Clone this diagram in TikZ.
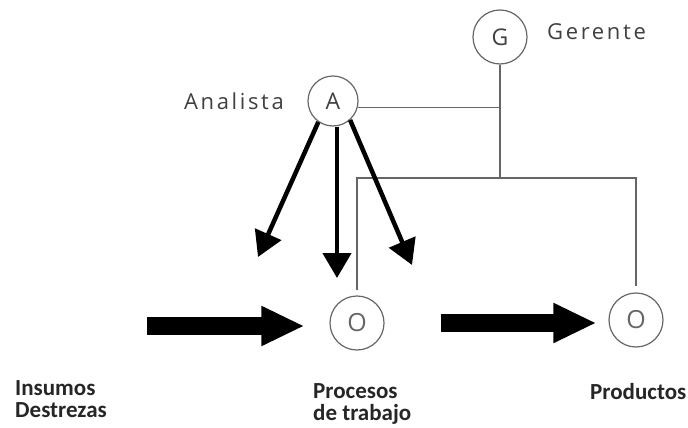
\documentclass[tikz,border=0pt]{standalone}
\usepackage{fontspec}
\setmainfont{Open Sans}
\newfontfamily\calib{Carlito}
\usetikzlibrary{arrows.meta}
\usetikzlibrary{calc}

\begin{document}
\begin{tikzpicture}[x=1pt,y=-1pt,
    puesto/.style={circle,draw=black!60,line width=1.2pt,minimum size=54pt,inner sep=0pt,text=black!75,font=\fontsize{23}{23}\selectfont},
    cargo/.style={inner sep=0pt,text=black!75,font=\fontsize{22}{22}\selectfont\addfontfeature{LetterSpace=12}},
    enlace/.style={draw=black!60,line width=1.3pt},
    flecha/.style={line width=4.5pt,-{Triangle[length=25pt,width=28pt]}},
    flujo/.style={line width=18pt,-{Triangle[length=43pt,width=37pt]}},
    rotulo/.style={font=\calib\fontsize{23}{22}\selectfont\bfseries,text=black!85,align=left,inner sep=0pt}]
    \useasboundingbox (0,0) rectangle (688,428);
    % puestos
    \node[puesto] (G) at (500,37) {G};
    \node[puesto,minimum size=50pt] (A) at (333,101) {A};
    \node[puesto,text=black!60,font=\fontsize{25}{25}\selectfont] (O1) at (357,323) {O};
    \node[puesto,text=black!60,font=\fontsize{25}{25}\selectfont] (O2) at (636,320) {O};
    \node[cargo,anchor=west] (gerente) at (547,32) {Gerente};
    \node[cargo,anchor=east] (analista) at (284,101) {Analista};
    \node[rotulo,anchor=north west] (insumos) at (15,380) {Insumos\\Destrezas};
    \node[rotulo,anchor=north west] (procesos) at (313,383) {Procesos\\de trabajo};
    \node[rotulo,anchor=north west] (productos) at (590,383) {Productos};
    % lineas de mando
    \coordinate (cruce) at (500,178);
    \draw[enlace] (A.-14) -- (A.-14 -| G);
    \draw[enlace] (G.south) -- (cruce);
    \draw[enlace,shorten <=5pt,shorten >=6pt] (O1.north) -- (O1 |- cruce) -- (O2 |- cruce) -- (O2.north);
    % flechas del analista
    \coordinate (izq) at (258,257);
    \coordinate (centro) at (337,278);
    \coordinate (der) at (412,265);
    \draw[flecha] (A.235) -- (izq);
    \draw[flecha] (A.south -| centro) -- (centro);
    \draw[flecha] (A.-48) -- (der);
    % flujo de trabajo
    \coordinate (insumo) at (147,326);
    \draw[flujo,shorten >=25pt] (insumo) -- (insumo -| O1.west);
    \draw[flujo,shorten <=56pt,shorten >=12pt] (O1.east) -- (O1.east -| O2.west);
\end{tikzpicture}
\end{document}
